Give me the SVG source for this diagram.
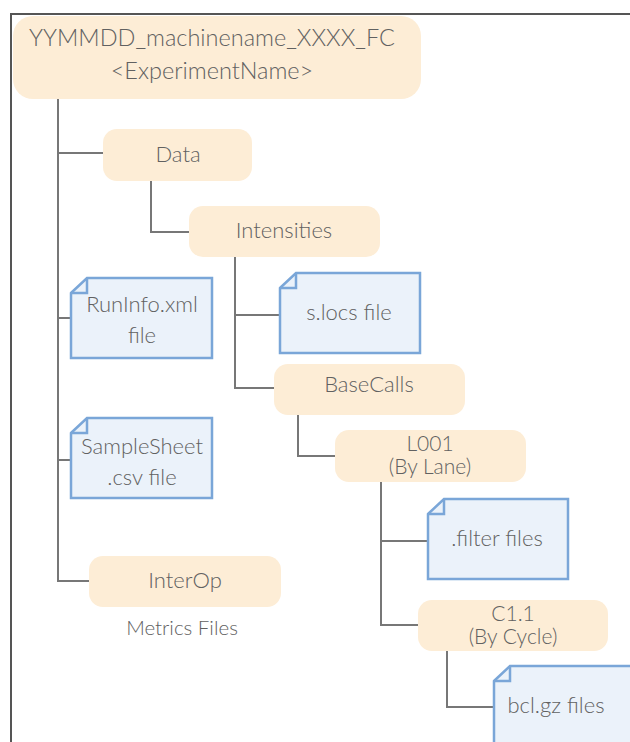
<svg xmlns="http://www.w3.org/2000/svg" width="630" height="742" viewBox="0 0 630 742">
  <defs>
    <style>
      .frame { stroke: #555; stroke-width: 2; fill: none; }
      .link { stroke: #777; stroke-width: 2; fill: none; }
      .folder { fill: #FDEDD6; }
      .file { fill: #EBF2FA; stroke: #7AA6D8; stroke-width: 2.5; stroke-linejoin: miter; }
      .fold { fill: none; stroke: #7AA6D8; stroke-width: 2.5; }
      text { font-family: Lato, "Open Sans", "Liberation Sans", sans-serif; font-weight: 300; font-size: 22px; fill: #616161; text-anchor: middle; }
      .title { font-size: 23.5px; }
      .pair { font-size: 21px; }
      .note { font-size: 20.5px; }
    </style>
  </defs>
  <rect width="630" height="742" fill="#fff"/>

  <!-- outer frame -->
  <path class="frame" d="M11,742 V14 H630"/>

  <!-- tree connectors -->
  <g id="connectors">
    <path class="link" d="M58,98 V581 H89"/>
    <path class="link" d="M58,153 H103"/>
    <path class="link" d="M58,318 H71"/>
    <path class="link" d="M58,460 H71"/>
    <path class="link" d="M151,181 V232 H189"/>
    <path class="link" d="M235,257 V388 H274"/>
    <path class="link" d="M235,315 H279"/>
    <path class="link" d="M298,415 V456 H335"/>
    <path class="link" d="M381,482 V625 H418"/>
    <path class="link" d="M381,541 H427"/>
    <path class="link" d="M447,651 V707 H493"/>
  </g>

  <g id="root">
    <rect class="folder" x="13" y="16" width="408" height="83" rx="20"/>
    <text class="title" x="212" y="46">YYMMDD_machinename_XXXX_FC</text>
    <text class="title" x="212" y="79">&lt;ExperimentName&gt;</text>
  </g>

  <g id="data">
    <rect class="folder" x="103" y="129" width="149" height="52" rx="14"/>
    <text x="178" y="162">Data</text>
  </g>

  <g id="intensities">
    <rect class="folder" x="189" y="206" width="191" height="51" rx="14"/>
    <text x="284" y="238">Intensities</text>
  </g>

  <g id="slocs">
    <path class="file" d="M280,288 L296,273 H420 V353 H280 Z"/>
    <path class="fold" d="M280,288 H296 V273"/>
    <text x="349" y="320">s.locs file</text>
  </g>

  <g id="runinfo">
    <path class="file" d="M71,293 L87,278 H212 V358 H71 Z"/>
    <path class="fold" d="M71,293 H87 V278"/>
    <text x="142" y="312">RunInfo.xml</text>
    <text x="142" y="343">file</text>
  </g>

  <g id="samplesheet">
    <path class="file" d="M71,433 L87,418 H212 V498 H71 Z"/>
    <path class="fold" d="M71,433 H87 V418"/>
    <text x="142" y="454">SampleSheet</text>
    <text x="142" y="485">.csv file</text>
  </g>

  <g id="basecalls">
    <rect class="folder" x="274" y="364" width="191" height="51" rx="14"/>
    <text x="369" y="392">BaseCalls</text>
  </g>

  <g id="l001">
    <rect class="folder" x="335" y="430" width="191" height="52" rx="14"/>
    <text class="pair" x="430" y="451">L001</text>
    <text class="pair" x="430" y="474">(By Lane)</text>
  </g>

  <g id="filter">
    <path class="file" d="M428,514 L444,499 H568 V579 H428 Z"/>
    <path class="fold" d="M428,514 H444 V499"/>
    <text x="497" y="546">.filter files</text>
  </g>

  <g id="c11">
    <rect class="folder" x="418" y="600" width="190" height="51" rx="14"/>
    <text class="pair" x="513" y="621">C1.1</text>
    <text class="pair" x="513" y="644">(By Cycle)</text>
  </g>

  <g id="bcl">
    <path class="file" d="M494,681 L510,666 H640 V750 H494 Z"/>
    <path class="fold" d="M494,681 H510 V666"/>
    <text x="556" y="713">bcl.gz files</text>
  </g>

  <g id="interop">
    <rect class="folder" x="89" y="556" width="192" height="51" rx="14"/>
    <text x="185" y="588">InterOp</text>
    <text class="note" x="182" y="635">Metrics Files</text>
  </g>
</svg>
